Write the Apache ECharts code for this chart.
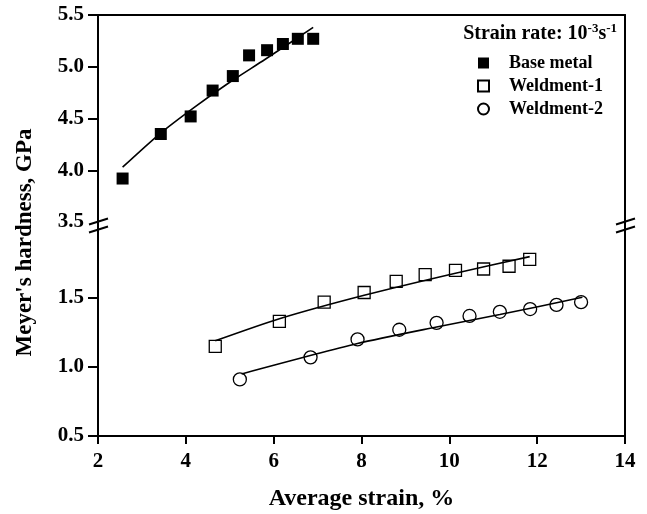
<!DOCTYPE html>
<html><head><meta charset="utf-8">
<script src="https://cdn.jsdelivr.net/npm/echarts@6/dist/echarts.min.js"></script>
<style>html,body{margin:0;padding:0;background:#fff}#c{width:647px;height:514px}</style>
</head><body><div id="c"></div>
<script>
// ---- data ----
const xTicks = [2, 4, 6, 8, 10, 12, 14];
const upperYTicks = [3.5, 4.0, 4.5, 5.0, 5.5];
const lowerYTicks = [0.5, 1.0, 1.5];

const baseX = [2.56, 3.43, 4.11, 4.61, 5.07, 5.44, 5.85, 6.21, 6.55, 6.90];
const baseY = [3.92, 4.35, 4.52, 4.77, 4.91, 5.11, 5.16, 5.22, 5.27, 5.27];
const baseFitX = [2.56, 3.40, 4.20, 5.00, 5.80, 6.90];
const baseFitY = [4.03, 4.35, 4.61, 4.85, 5.07, 5.38];

const w1X = [4.67, 6.13, 7.15, 8.06, 8.79, 9.45, 10.14, 10.78, 11.36, 11.83];
const w1Y = [1.15, 1.33, 1.47, 1.54, 1.62, 1.67, 1.70, 1.71, 1.73, 1.78];
const w1FitX = [4.67, 6.13, 8.06, 10.14, 11.83];
const w1FitY = [1.19, 1.35, 1.52, 1.68, 1.80];

const w2X = [5.23, 6.84, 7.91, 8.86, 9.71, 10.46, 11.15, 11.84, 12.44, 13.00];
const w2Y = [0.91, 1.07, 1.20, 1.27, 1.32, 1.37, 1.40, 1.42, 1.45, 1.47];
const w2FitX = [5.27, 7.91, 9.71, 11.15, 13.03];
const w2FitY = [0.95, 1.17, 1.29, 1.38, 1.505];

const zip = (a, b) => a.map((v, i) => [v, b[i]]);
const FONT = '"Liberation Serif", "Times New Roman", serif';
const black = '#000';

const chart = echarts.init(document.getElementById('c'), null, {renderer: 'canvas'});
const axisLabelY = {color: black, fontFamily: FONT, fontWeight: 'bold', fontSize: 21, margin: 14,
  formatter: v => Number(v).toFixed(1)};
const option = {
  animation: false,
  backgroundColor: '#fff',
  title: {
    text: '{a|Strain rate: 10}{s|-3}{a|s}{s|-1}',
    right: 25, top: 17,
    textStyle: {
      rich: {
        a: {fontFamily: FONT, fontWeight: 'bold', fontSize: 20, color: black, verticalAlign: 'bottom', lineHeight: 22},
        s: {fontFamily: FONT, fontWeight: 'bold', fontSize: 13, color: black, verticalAlign: 'top', lineHeight: 22, padding: [0,0,9,0]}
      }
    }
  },
  legend: {
    orient: 'vertical', left: 472, top: 49, itemGap: 5,
    itemWidth: 11, itemHeight: 11,
    data: ['Base metal', 'Weldment-1', 'Weldment-2'],
    textStyle: {fontFamily: FONT, fontWeight: 'bold', fontSize: 18, color: black, padding: [0,0,0,15]},
    selectedMode: false
  },
  grid: [
    {left: 98, right: 22, top: 15, height: 207},
    {left: 98, right: 22, top: 229, height: 207}
  ],
  xAxis: [
    {gridIndex: 0, type: 'value', min: 2, max: 14, interval: 2, position: 'top',
      axisLine: {show: true, lineStyle: {color: black, width: 2}}, axisTick: {show: false},
      axisLabel: {show: false}, splitLine: {show: false}},
    {gridIndex: 1, type: 'value', min: 2, max: 14, interval: 2, position: 'bottom',
      axisLine: {show: true, onZero: false, lineStyle: {color: black, width: 2}},
      axisTick: {show: true, length: 8, lineStyle: {color: black, width: 2}},
      axisLabel: {color: black, fontFamily: FONT, fontWeight: 'bold', fontSize: 21, margin: 15},
      splitLine: {show: false},
      name: 'Average strain, %', nameLocation: 'middle', nameGap: 51,
      nameTextStyle: {color: black, fontFamily: FONT, fontWeight: 'bold', fontSize: 24}}
  ],
  yAxis: [
    {gridIndex: 0, type: 'value', min: 3.5, max: 5.5, interval: 0.5,
      axisLine: {show: true, onZero: false, lineStyle: {color: black, width: 2}},
      axisTick: {show: true, length: 10, customValues: [4.0, 4.5, 5.0, 5.5], lineStyle: {color: black, width: 2}},
      axisLabel: Object.assign({}, axisLabelY, {customValues: upperYTicks}),
      splitLine: {show: false}},
    {gridIndex: 1, type: 'value', min: 0.5, max: 2.0, interval: 0.5,
      axisLine: {show: true, onZero: false, lineStyle: {color: black, width: 2}},
      axisTick: {show: true, length: 10, customValues: lowerYTicks, lineStyle: {color: black, width: 2}},
      axisLabel: Object.assign({}, axisLabelY, {customValues: lowerYTicks}),
      splitLine: {show: false}},
    {gridIndex: 0, type: 'value', min: 3.5, max: 5.5, position: 'right',
      axisLine: {show: true, onZero: false, lineStyle: {color: black, width: 2}},
      axisTick: {show: false}, axisLabel: {show: false}, splitLine: {show: false}},
    {gridIndex: 1, type: 'value', min: 0.5, max: 2.0, position: 'right',
      axisLine: {show: true, onZero: false, lineStyle: {color: black, width: 2}},
      axisTick: {show: false}, axisLabel: {show: false}, splitLine: {show: false}}
  ],
  series: [
    {name: 'Base metal', type: 'scatter', xAxisIndex: 0, yAxisIndex: 0, symbol: 'rect', symbolSize: 12,
      itemStyle: {color: black, opacity: 1}, data: zip(baseX, baseY), z: 3},
    {name: 'Base fit', type: 'line', xAxisIndex: 0, yAxisIndex: 0, smooth: 0.25, showSymbol: false,
      lineStyle: {color: black, width: 1.6}, data: zip(baseFitX, baseFitY), z: 2},
    {name: 'Weldment-1', type: 'scatter', xAxisIndex: 1, yAxisIndex: 1, symbol: 'rect', symbolSize: 12,
      itemStyle: {color: '#fff', borderColor: black, borderWidth: 1.3, opacity: 1}, data: zip(w1X, w1Y), z: 3},
    {name: 'W1 fit', type: 'line', xAxisIndex: 1, yAxisIndex: 1, smooth: 0.25, showSymbol: false,
      lineStyle: {color: black, width: 1.6}, data: zip(w1FitX, w1FitY), z: 4},
    {name: 'Weldment-2', type: 'scatter', xAxisIndex: 1, yAxisIndex: 1, symbol: 'circle', symbolSize: 13,
      itemStyle: {color: '#fff', borderColor: black, borderWidth: 1.3, opacity: 1}, data: zip(w2X, w2Y), z: 3},
    {name: 'W2 fit', type: 'line', xAxisIndex: 1, yAxisIndex: 1, smooth: 0.25, showSymbol: false,
      lineStyle: {color: black, width: 1.6}, data: zip(w2FitX, w2FitY), z: 4}
  ],
  graphic: []
};
chart.setOption(option);

// y-axis title and axis break marks
const xl = chart.convertToPixel({xAxisIndex: 1}, 2);
const xr = chart.convertToPixel({xAxisIndex: 1}, 14);
const yt = chart.convertToPixel({yAxisIndex: 0}, 3.5);
const yb = chart.convertToPixel({yAxisIndex: 1}, 2.0);
const yTop = chart.convertToPixel({yAxisIndex: 0}, 5.5);
const yBottom = chart.convertToPixel({yAxisIndex: 1}, 0.5);
const ym = (yt + yb) / 2;
const g = [];
[xl, xr].forEach(x => {
  g.push({type: 'line', shape: {x1: x, y1: yt, x2: x, y2: yb}, style: {stroke: black, lineWidth: 2}, z: 10});
  g.push({type: 'line', shape: {x1: x - 9, y1: ym - 1, x2: x + 10, y2: ym - 7}, style: {stroke: black, lineWidth: 2}, z: 11});
  g.push({type: 'line', shape: {x1: x - 9, y1: ym + 7, x2: x + 10, y2: ym + 1}, style: {stroke: black, lineWidth: 2}, z: 11});
});
g.push({type: 'text', x: 25, y: (yTop + yBottom) / 2 + 17, rotation: Math.PI / 2,
  style: {text: "Meyer's hardness, GPa", fill: black, font: 'bold 23px ' + FONT, align: 'center', verticalAlign: 'middle'}});
chart.setOption({graphic: g});
</script></body></html>
